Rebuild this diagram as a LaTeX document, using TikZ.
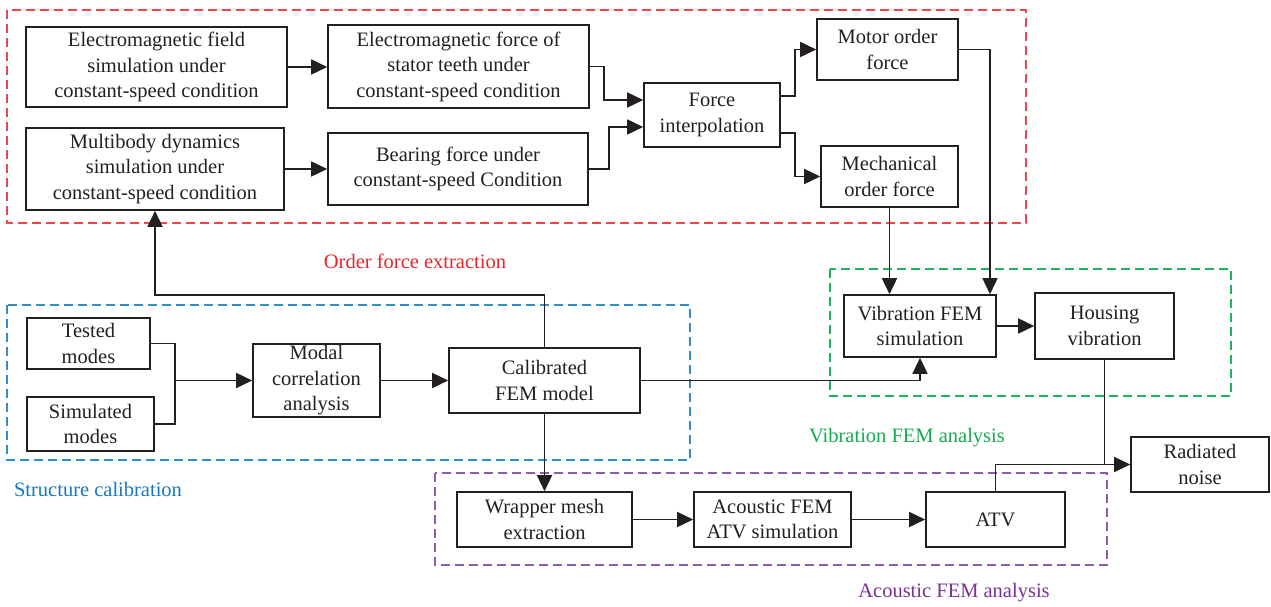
\documentclass[tikz,border=0pt]{standalone}
\usepackage{fontspec}
\setmainfont{Liberation Serif}
\usetikzlibrary{arrows.meta}
\definecolor{cred}{RGB}{236,70,78}
\definecolor{cblue}{RGB}{52,140,200}
\definecolor{cgreen}{RGB}{30,180,90}
\definecolor{cpurple}{RGB}{142,92,170}
\definecolor{lred}{RGB}{232,36,44}
\definecolor{lblue}{RGB}{20,120,190}
\definecolor{lgreen}{RGB}{20,170,80}
\definecolor{lpurple}{RGB}{120,50,150}
\definecolor{ink}{RGB}{35,31,32}
\tikzset{
  box/.style={draw=ink, line width=1.6pt, inner sep=0pt, align=center, text=ink,
    font=\fontsize{20.5}{25.5}\selectfont},
  arr/.style={draw=ink, line width=1.6pt, -{Triangle[length=16pt,width=15pt]}},
  ln/.style={draw=ink, line width=1.6pt},
  grp/.style={line width=1.4pt, dash pattern=on 9pt off 5pt},
  lab/.style={font=\fontsize{20.5}{25}\selectfont, inner sep=0pt}
}
\begin{document}
\begin{tikzpicture}[x=1pt,y=-1pt]
\useasboundingbox (0,0) rectangle (1271,607);
% groups
\draw[grp, cred] (7,10) rectangle (1026,223);
\draw[grp, cblue] (7,305) rectangle (690,460);
\draw[grp, cgreen] (830,269) rectangle (1231,396);
\draw[grp, cpurple] (435,473) rectangle (1107,565);
% group labels
\node[lab, text=lred] (lorder) at (415,261) {Order force extraction};
\node[lab, text=lblue] (lstruct) at (98,489) {Structure calibration};
\node[lab, text=lgreen] (lvib) at (907,438) {Vibration FEM analysis};
\node[lab, text=lpurple] (lac) at (954,593) {Acoustic FEM analysis};
% nodes
\node[box, minimum width=261pt, minimum height=80pt] (emf) at (156.5,67) {Electromagnetic field\\simulation under\\constant-speed condition};
\node[box, minimum width=261pt, minimum height=83pt] (emforce) at (458.5,66.5) {Electromagnetic force of\\stator teeth under\\constant-speed condition};
\node[box, minimum width=258pt, minimum height=82pt] (mbd) at (155,169) {Multibody dynamics\\simulation under\\constant-speed condition};
\node[box, minimum width=260pt, minimum height=72pt] (bear) at (458,169) {Bearing force under\\constant-speed Condition};
\node[box, minimum width=136pt, minimum height=64pt] (fint) at (712,115) {Force\\interpolation};
\node[box, minimum width=141pt, minimum height=61pt] (motor) at (887.5,49.5) {Motor order\\force};
\node[box, minimum width=137pt, minimum height=61pt] (mech) at (889.5,176.5) {Mechanical\\order force};
\node[box, minimum width=152pt, minimum height=62pt] (vib) at (920,326) {Vibration FEM\\simulation};
\node[box, minimum width=139pt, minimum height=66pt] (hous) at (1104.5,326) {Housing\\vibration};
\node[box, minimum width=138pt, minimum height=55pt] (rad) at (1200,464.5) {Radiated\\noise};
\node[box, minimum width=123pt, minimum height=51pt] (tested) at (88.5,343.5) {Tested\\modes};
\node[box, minimum width=127pt, minimum height=54pt] (simul) at (90.5,424) {Simulated\\modes};
\node[box, minimum width=127pt, minimum height=73pt] (modal) at (316.5,380.5) {Modal\\correlation\\analysis};
\node[box, minimum width=191pt, minimum height=65pt] (cal) at (544.5,380.5) {Calibrated\\FEM model};
\node[box, minimum width=175pt, minimum height=55pt] (wrap) at (544.5,519.5) {Wrapper mesh\\extraction};
\node[box, minimum width=157pt, minimum height=55pt] (acou) at (772.5,519.5) {Acoustic FEM\\ATV simulation};
\node[box, minimum width=139pt, minimum height=55pt] (atv) at (995.5,519.5) {ATV};
\coordinate (j) at (175,380.5);
% connectors
\draw[arr] (emf.east) -- (emf.east -| emforce.west);
\draw[arr] (mbd.east) -- (mbd.east -| bear.west);
\draw[arr] (emforce.east) -- ++(14,0) |- ([yshift=15pt]fint.west);
\draw[arr] (bear.east) -- ++(20,0) |- ([yshift=-12pt]fint.west);
\draw[arr] ([yshift=19pt]fint.east) -- ++(14,0) |- (motor.west);
\draw[arr] ([yshift=-18pt]fint.east) -- ++(14,0) |- (mech.west);
\draw[arr] (motor.east) -| ([xshift=70pt]vib.north);
\draw[arr] (mech.south) -- (mech.south |- vib.north);
\draw[arr] (vib.east) -- (vib.east -| hous.west);
\draw[ln] (atv.north) |- (rad.west);
\draw[arr] (hous.south) |- (rad.west);
\draw[ln] (tested.east) -| (j) |- (simul.east);
\draw[arr] (j) -- (j -| modal.west);
\draw[arr] (modal.east) -- (modal.east -| cal.west);
\draw[arr] (cal.east) -| (vib.south);
\draw[arr] (cal.north) -- ++(0,-52) -| (mbd.south);
\draw[arr] (cal.south) -- (wrap.north);
\draw[arr] (wrap.east) -- (acou.west);
\draw[arr] (acou.east) -- (atv.west);
\end{tikzpicture}
\end{document}
